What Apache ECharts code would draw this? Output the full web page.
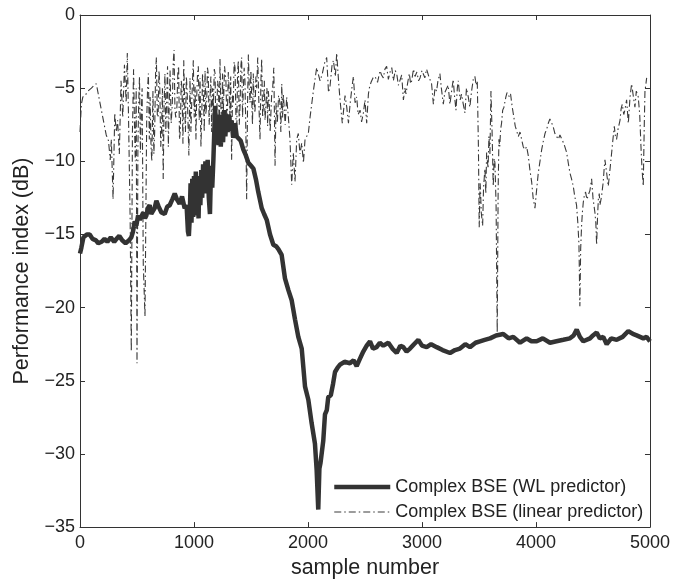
<!DOCTYPE html>
<html>
<head>
<meta charset="utf-8">
<script src="https://cdn.jsdelivr.net/npm/echarts@6/dist/echarts.min.js"></script>
<style>html,body{margin:0;padding:0;background:#fff}#c{width:673px;height:584px}</style>
</head>
<body>
<div id="c"></div>
<script>
const xTicks = [0, 1000, 2000, 3000, 4000, 5000];
const yTicks = [-35, -30, -25, -20, -15, -10, -5, 0];
const seriesNames = ['Complex BSE (WL predictor)', 'Complex BSE (linear predictor)'];

const wlSamples = [0,12,30,60,85,110,140,160,190,215,240,270,300,320,345,370,400,430,450,465,480,494,510,525,538,555,570,582,596,611,625,640,655,670,690,714,743,765,787,810,831,850,874,895,918,935,947,955,962,970,978,985,993,1000,1008,1016,1024,1032,1040,1048,1056,1064,1072,1080,1090,1100,1110,1120,1130,1140,1150,1160,1170,1180,1185,1195,1205,1215,1225,1235,1245,1255,1265,1275,1285,1295,1305,1315,1330,1345,1360,1375,1389,1410,1433,1455,1477,1500,1521,1545,1564,1594,1615,1638,1667,1696,1720,1740,1769,1798,1828,1857,1886,1915,1945,1974,2003,2032,2061,2076,2090,2100,2110,2134,2149,2165,2178,2200,2220,2237,2260,2281,2320,2368,2400,2427,2455,2485,2515,2544,2570,2602,2630,2661,2705,2740,2778,2810,2836,2865,2895,2930,2968,3000,3041,3080,3129,3180,3246,3290,3333,3380,3421,3470,3509,3550,3597,3650,3713,3760,3801,3860,3918,3960,4006,4060,4123,4180,4240,4298,4330,4357,4385,4415,4474,4500,4532,4560,4590,4620,4660,4708,4760,4810,4850,4883,4942,4970,5000];
const wlValues = [-16.3,-15.9,-15.2,-15.0,-15.0,-15.3,-15.4,-15.6,-15.5,-15.3,-15.5,-15.2,-15.5,-15.3,-15.1,-15.4,-15.6,-15.4,-15.2,-14.8,-14.1,-14.4,-13.7,-14.0,-13.9,-13.5,-13.9,-13.7,-13.2,-13.0,-13.6,-13.7,-13.2,-12.7,-13.1,-13.5,-13.6,-13.1,-13.0,-12.6,-12.2,-12.6,-12.9,-12.4,-13.2,-13.0,-14.8,-15.1,-14.0,-11.5,-14.2,-11.2,-13.8,-11.0,-13.3,-10.7,-13.7,-11.4,-13.9,-11.0,-13.0,-10.6,-12.5,-10.2,-12.2,-10.0,-11.8,-9.9,-12.5,-13.6,-10.3,-11.8,-9.9,-7.5,-6.2,-8.6,-7.0,-8.9,-6.8,-9.0,-7.2,-8.7,-6.5,-8.3,-7.0,-8.0,-6.8,-7.9,-7.2,-8.4,-7.4,-8.3,-8.2,-8.6,-9.2,-9.6,-10.1,-10.3,-10.5,-11.3,-12.1,-13.2,-13.6,-14.0,-15.0,-15.7,-15.8,-16.0,-16.4,-18.0,-18.8,-19.5,-20.8,-22.0,-22.8,-25.4,-26.3,-27.9,-29.3,-31.1,-33.8,-31.0,-30.6,-29.1,-27.3,-27.0,-26.1,-26.0,-25.2,-24.4,-24.1,-23.9,-23.7,-23.8,-23.6,-24.0,-23.5,-23.0,-22.6,-22.3,-22.8,-22.7,-22.4,-22.6,-22.4,-22.8,-23.1,-22.6,-22.7,-23.0,-22.8,-22.5,-22.2,-22.6,-22.7,-22.5,-22.7,-22.9,-23.1,-22.9,-22.8,-22.5,-22.7,-22.4,-22.3,-22.2,-22.1,-21.9,-21.8,-22.1,-22.0,-22.4,-22.1,-22.3,-22.3,-22.1,-22.4,-22.3,-22.2,-22.1,-21.9,-21.5,-22.0,-22.3,-22.1,-21.9,-21.7,-22.1,-22.0,-22.5,-22.1,-22.2,-22.0,-21.6,-21.8,-21.9,-22.1,-22.0,-22.3];

const linSamples = [0,12,25,45,70,100,125,143,170,200,230,250,265,275,290,305,318,330,345,360,375,390,405,415,425,433,440,450,460,470,478,485,493,500,508,515,522,530,538,545,555,570,585,593,600,608,615,623,630,640,648,655,663,670,678,685,693,700,708,715,723,730,738,745,753,760,768,775,783,790,800,810,818,825,833,840,850,858,865,873,880,888,895,903,910,918,925,933,940,948,955,965,973,980,987,994,1002,1010,1017,1023,1031,1038,1046,1053,1061,1068,1075,1082,1090,1097,1104,1111,1118,1125,1133,1140,1148,1155,1163,1170,1178,1185,1192,1199,1207,1215,1222,1228,1235,1243,1250,1257,1268,1280,1290,1301,1308,1315,1322,1330,1338,1345,1352,1360,1368,1375,1382,1389,1397,1405,1412,1418,1426,1433,1440,1447,1455,1462,1470,1477,1485,1492,1499,1506,1513,1520,1528,1535,1543,1550,1559,1569,1579,1587,1594,1602,1610,1617,1623,1632,1640,1646,1652,1660,1668,1675,1681,1690,1700,1705,1711,1720,1731,1742,1754,1762,1770,1777,1784,1792,1800,1813,1828,1842,1857,1871,1886,1901,1915,1930,1945,1960,1974,1990,2003,2018,2047,2076,2106,2126,2145,2164,2180,2193,2210,2223,2240,2252,2268,2281,2301,2325,2340,2355,2369,2385,2398,2413,2427,2440,2457,2470,2486,2500,2515,2530,2538,2553,2570,2588,2610,2632,2645,2661,2675,2690,2705,2720,2735,2749,2765,2778,2793,2807,2822,2837,2850,2860,2875,2889,2900,2910,2925,2939,2955,2970,2983,3000,3012,3025,3040,3060,3084,3100,3114,3128,3140,3157,3170,3187,3200,3216,3230,3245,3260,3274,3285,3298,3310,3318,3335,3347,3360,3377,3390,3406,3420,3435,3450,3464,3475,3485,3495,3502,3510,3514,3520,3532,3540,3552,3560,3567,3580,3587,3596,3605,3615,3625,3633,3640,3650,3660,3668,3675,3682,3690,3698,3708,3719,3728,3736,3746,3757,3767,3777,3790,3807,3818,3830,3845,3860,3874,3888,3903,3918,3932,3947,3962,3975,3991,4005,4020,4035,4050,4065,4079,4094,4108,4122,4137,4150,4166,4180,4196,4210,4225,4245,4269,4285,4298,4312,4327,4340,4356,4367,4377,4385,4392,4400,4407,4415,4425,4435,4447,4459,4473,4488,4500,4517,4525,4532,4540,4547,4555,4561,4575,4590,4598,4605,4620,4634,4650,4664,4675,4687,4697,4707,4720,4737,4747,4757,4770,4780,4795,4810,4825,4839,4853,4868,4880,4897,4910,4921,4930,4941,4950,4956,4963,4971,4985,5000];
const linValues = [-8.0,-6.1,-5.6,-5.5,-5.2,-5.0,-4.8,-4.7,-5.8,-7.0,-8.2,-8.6,-9.9,-8.5,-12.6,-6.7,-8.0,-7.2,-9.5,-4.5,-7.0,-3.4,-6.0,-2.6,-6.7,-10.5,-14,-23.0,-8,-3.7,-7.5,-10,-5.0,-23.8,-9,-6,-4.2,-9.4,-6.5,-5,-17,-20.6,-7.2,-5.0,-4,-8.5,-5.6,-9.0,-10,-5.2,-9.5,-8,-4.0,-2.9,-6.8,-7,-3.8,-4.9,-9.0,-8,-5.0,-11.2,-6.0,-4,-8.0,-5.8,-3.5,-9,-6.0,-3.8,-7.4,-6,-3.2,-2.4,-6.5,-7,-6.3,-4.0,-3.5,-8.5,-7.9,-4.5,-5,-8.8,-3.1,-6.0,-8,-4.2,-5.2,-7.5,-9.6,-4.3,-8.0,-6,-4.5,-3.1,-7.0,-4.9,-8.5,-5.8,-4.0,-3.5,-7.2,-4.3,-9.0,-7,-4.0,-5.2,-8.0,-3.8,-6.8,-6.1,-3.6,-4,-7.5,-5.8,-4.2,-8,-5.0,-6.3,-3.7,-4,-8.0,-7.0,-4.5,-5,-8.2,-3.0,-6.0,-8,-4.0,-6.7,-3.5,-4.5,-7.8,-3.9,-5.0,-7,-4.2,-9.9,-5.5,-6,-3.2,-3.6,-7.0,-8,-4.0,-3.1,-7.5,-6,-3.4,-2.9,-7.0,-5,-3.6,-4.5,-8.0,-12.6,-6.0,-2.7,-5.0,-6,-3.8,-5.6,-7.5,-4,-6.0,-6.7,-4.2,-5,-2.9,-6.0,-8.5,-4.5,-3.0,-7.0,-6,-4.5,-7.2,-6.0,-5,-7.6,-5.2,-6,-8.0,-7.9,-5.5,-5,-3.6,-6.5,-10.3,-6.0,-7.4,-5.5,-6,-8.0,-4.7,-7.0,-5.4,-5.4,-7.5,-5.6,-7,-8.5,-11.6,-9.4,-11.4,-8.5,-8.1,-9.5,-8.75,-10.1,-8.5,-8.5,-8.1,-7.0,-5.2,-3.6,-4.5,-4.0,-3.3,-2.9,-5.3,-4.9,-3.5,-3.1,-4.2,-2.6,-4.5,-5.8,-7.4,-5.5,-6.3,-7.4,-6.1,-5,-4.2,-6.0,-5.6,-6.8,-6.5,-7.3,-6.7,-5.8,-7.4,-5.4,-5.0,-4.6,-4.3,-4.2,-4.6,-3.8,-4.1,-4.3,-3.7,-3.5,-4.4,-3.9,-3.6,-4.5,-3.8,-4.0,-4.8,-4.7,-4.1,-5.8,-5.0,-5.4,-4.6,-4.0,-4.7,-4.5,-3.7,-4.2,-3.9,-4.5,-4.3,-3.8,-3.9,-4.3,-3.7,-4.2,-4.7,-6.1,-5.0,-5.2,-4.5,-4.0,-5.0,-6.1,-5.3,-5.4,-4.8,-6.1,-5.2,-4.4,-5.5,-6.5,-5.0,-4.5,-5.8,-5.4,-6.0,-6.7,-5.0,-5.6,-6.3,-5.2,-4.4,-4.2,-4.8,-4.5,-9.0,-14.5,-11.5,-12.1,-13.5,-14.4,-11.8,-10.5,-12.2,-9.4,-10.5,-8.3,-9.5,-5.2,-8,-11.7,-9.8,-10.1,-13,-21.7,-12,-8.5,-9.0,-7.8,-7.4,-6.5,-6.3,-5.9,-5.6,-5.3,-5.2,-5.6,-5.4,-6.2,-6.1,-7.6,-7.9,-8.3,-8.0,-8.5,-9.0,-9.2,-9.0,-9.6,-10.6,-11.4,-12.5,-13.2,-12,-10.8,-10,-9.2,-8.6,-8.1,-7.8,-7.4,-7.1,-7.2,-7.6,-8.1,-8.0,-8.5,-8.2,-8.3,-8.8,-9.4,-10.2,-10.8,-11.2,-11.7,-12.4,-13.0,-14.2,-15.7,-19.9,-16,-14.4,-13.5,-12.8,-12.3,-12.1,-12.6,-12.3,-12.0,-11.2,-12.5,-13.5,-14.2,-15.7,-13.8,-12.6,-12.2,-13.0,-12.4,-11.4,-10.5,-9.9,-10.8,-11.7,-10.5,-9.4,-8.5,-7.6,-8.3,-8.5,-7.8,-7.2,-6.4,-6.1,-6.8,-6.5,-5.8,-7.4,-5.6,-4.7,-5.5,-6.3,-5.2,-5.6,-6.8,-9.0,-10.5,-11.7,-7.5,-5.2,-4.8,-4.3];

const pair = (xs, ys) => xs.map((x, i) => [x, ys[i]]);
const FONT = '"Liberation Sans", Arial, Helvetica, sans-serif';
const AX = '#333';
const minus = v => String(v).replace('-', '\u2212');

const chart = echarts.init(document.getElementById('c'), null, {renderer: 'canvas'});
const baseX = {
  type: 'value', min: xTicks[0], max: xTicks[xTicks.length - 1], interval: 1000,
  axisLine: {show: true, onZero: false, lineStyle: {color: AX, width: 1}},
  axisTick: {show: true, inside: true, length: 5, lineStyle: {color: AX}},
  splitLine: {show: false}
};
const baseY = {
  type: 'value', min: yTicks[0], max: yTicks[yTicks.length - 1], interval: 5,
  axisLine: {show: true, onZero: false, lineStyle: {color: AX, width: 1}},
  axisTick: {show: true, inside: true, length: 5, lineStyle: {color: AX}},
  splitLine: {show: false}
};
chart.setOption({
  animation: false,
  backgroundColor: '#fff',
  grid: {left: 80, right: 23, top: 15, bottom: 49, containLabel: false},
  xAxis: [
    Object.assign({}, baseX, {
      position: 'bottom',
      name: 'sample number', nameLocation: 'middle', nameGap: 27,
      nameTextStyle: {fontFamily: FONT, fontSize: 21.5, color: '#222'},
      axisLabel: {fontFamily: FONT, fontSize: 18, color: '#222', margin: 7, formatter: v => String(v)}
    }),
    Object.assign({}, baseX, {position: 'top', axisLabel: {show: false}})
  ],
  yAxis: [
    Object.assign({}, baseY, {
      position: 'left',
      name: 'Performance index (dB)', nameLocation: 'middle', nameGap: 44,
      nameTextStyle: {fontFamily: FONT, fontSize: 21.5, color: '#222'},
      axisLabel: {fontFamily: FONT, fontSize: 18, color: '#222', margin: 5, formatter: minus}
    }),
    Object.assign({}, baseY, {position: 'right', axisLabel: {show: false}})
  ],
  legend: {
    orient: 'vertical', left: 332, top: 477, padding: 0, itemWidth: 56, itemHeight: 14, itemGap: 5,
    selectedMode: false,
    itemStyle: {opacity: 0},
    lineStyle: {width: 'inherit', type: 'inherit'},
    textStyle: {fontFamily: FONT, fontSize: 18, color: '#222', lineHeight: 20},
    data: seriesNames
  },
  series: [
    {
      name: seriesNames[0], type: 'line', symbol: 'none', z: 3,
      data: pair(wlSamples, wlValues),
      lineStyle: {color: '#333', width: 4.5},
      itemStyle: {color: '#333'}
    },
    {
      name: seriesNames[1], type: 'line', symbol: 'none', z: 2,
      data: pair(linSamples, linValues),
      lineStyle: {color: '#3a3a3a', width: 1.1, type: [7, 3, 1.5, 3]},
      itemStyle: {color: '#3a3a3a'}
    }
  ]
});
</script>
</body>
</html>
